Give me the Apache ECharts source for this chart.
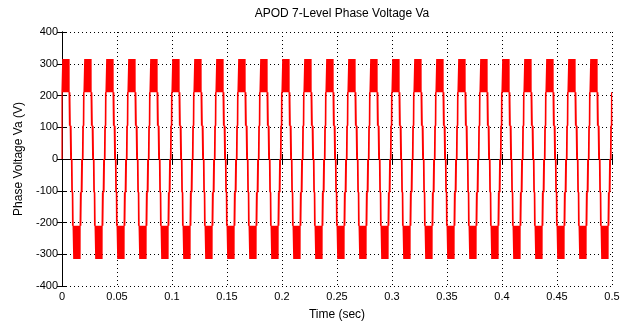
<!DOCTYPE html>
<html>
<head>
<meta charset="utf-8">
<script src="https://cdn.jsdelivr.net/npm/echarts@6/dist/echarts.min.js"></script>
<style>
html,body{margin:0;padding:0;background:#fff;}
#chart{width:632px;height:327px;}
</style>
</head>
<body>
<div id="chart"></div>
<script>
// ---- data ----
const titleText = 'APOD 7-Level Phase Voltage Va';
const xAxisName = 'Time (sec)';
const yAxisName = 'Phase Voltage Va (V)';
const xTicks = [0, 0.05, 0.1, 0.15, 0.2, 0.25, 0.3, 0.35, 0.4, 0.45, 0.5];
const yTicks = [-400, -300, -200, -100, 0, 100, 200, 300, 400];
// voltage of each inverter level, index = level + 3
const levelVolts = [-315, -210, -105, 0, 105, 210, 315];
// fundamental period (ms) and number of periods shown
const periodMs = 20;
const periodCount = 25;
// switching events inside one period: [time ms, level]
const periodSteps = [
  [0.0, 2],
  [6.8, 1], [7.1, 2], [7.5, 1],
  [7.9, 0], [8.2, 1], [8.6, 0],
  [8.9, -1], [9.1, 0], [9.4, -1],
  [9.6, -2], [9.8, -1], [10.1, -2],
  [16.8, -1], [17.1, -2], [17.5, -1],
  [17.9, 0], [18.2, -1], [18.6, 0],
  [18.9, 1], [19.1, 0], [19.4, 1],
  [19.6, 2], [19.8, 1]
];
// dense carrier switching blocks (seen as solid red): [start ms, end ms, levelA, levelB]
const pwmBlocks = [
  [0.7, 6.5, 2, 3],
  [10.7, 16.5, -2, -3]
];
const carrierStepMs = 0.05;
// waveform starts at 0 V at t = 0
const startLevel = 0;

// ---- build the series from the arrays ----
function buildPeriodEvents() {
  const ev = periodSteps.slice();
  pwmBlocks.forEach(b => {
    let k = 0;
    for (let t = b[0]; t < b[1] - 1e-9; t += carrierStepMs) {
      ev.push([t, k % 2 === 0 ? b[3] : b[2]]);
      k++;
    }
    ev.push([b[1], b[2]]);
  });
  ev.sort((a, b) => a[0] - b[0]);
  return ev;
}
const oneP = buildPeriodEvents();
const data = [];
let prev = startLevel;
data.push([0, levelVolts[prev + 3]]);
for (let p = 0; p < periodCount; p++) {
  oneP.forEach(e => {
    const t = (p * periodMs + e[0]) / 1000;
    data.push([t, levelVolts[prev + 3]]);
    data.push([t, levelVolts[e[1] + 3]]);
    prev = e[1];
  });
}
data.push([periodCount * periodMs / 1000, levelVolts[prev + 3]]);

const font = 'Liberation Sans, Arial, sans-serif';
const gridLine = {show: true, lineStyle: {color: '#000', width: 1, type: [1, 3]}};
const chart = echarts.init(document.getElementById('chart'), null, {renderer: 'canvas'});
chart.setOption({
  animation: false,
  backgroundColor: '#fff',
  title: {
    text: titleText, left: 337, top: 3, textAlign: 'center',
    textStyle: {fontFamily: font, fontSize: 12, fontWeight: 'normal', color: '#000'}
  },
  grid: {left: 62, right: 20, top: 32, bottom: 41},
  xAxis: [{
    type: 'value', min: 0, max: 0.5, interval: 0.05,
    name: xAxisName, nameLocation: 'middle', nameGap: 23,
    nameTextStyle: {fontFamily: font, fontSize: 12, color: '#000'},
    axisLine: {show: true, lineStyle: {color: '#000', width: 1}},
    axisTick: {show: true, inside: true, length: 5, lineStyle: {color: '#000'}},
    axisLabel: {fontFamily: font, fontSize: 11, color: '#000', margin: 5,
      formatter: v => String(+v.toFixed(2))},
    splitLine: gridLine
  }, {
    type: 'value', min: 0, max: 0.5, interval: 0.05, position: 'top',
    axisLine: {show: true, lineStyle: {color: '#000', width: 1}},
    axisTick: {show: true, inside: true, length: 5, lineStyle: {color: '#000'}},
    axisLabel: {show: false}, splitLine: {show: false}
  }],
  yAxis: [{
    type: 'value', min: -400, max: 400, interval: 100,
    name: yAxisName, nameLocation: 'middle', nameGap: 34,
    nameTextStyle: {fontFamily: font, fontSize: 12, color: '#000'},
    axisLine: {show: true, lineStyle: {color: '#000', width: 1}},
    axisTick: {show: true, inside: true, length: 5, lineStyle: {color: '#000'}},
    axisLabel: {fontFamily: font, fontSize: 11, color: '#000', margin: 4},
    splitLine: gridLine
  }, {
    type: 'value', min: -400, max: 400, interval: 100, position: 'right',
    axisLine: {show: true, lineStyle: {color: '#000', width: 1}},
    axisTick: {show: true, inside: true, length: 5, lineStyle: {color: '#000'}},
    axisLabel: {show: false}, splitLine: {show: false}
  }],
  series: [{
    type: 'line', data: data, showSymbol: false, symbol: 'none',
    sampling: null, smooth: false, clip: true,
    lineStyle: {color: '#ff0000', width: 1.2},
    z: 3
  }]
});
</script>
</body>
</html>
